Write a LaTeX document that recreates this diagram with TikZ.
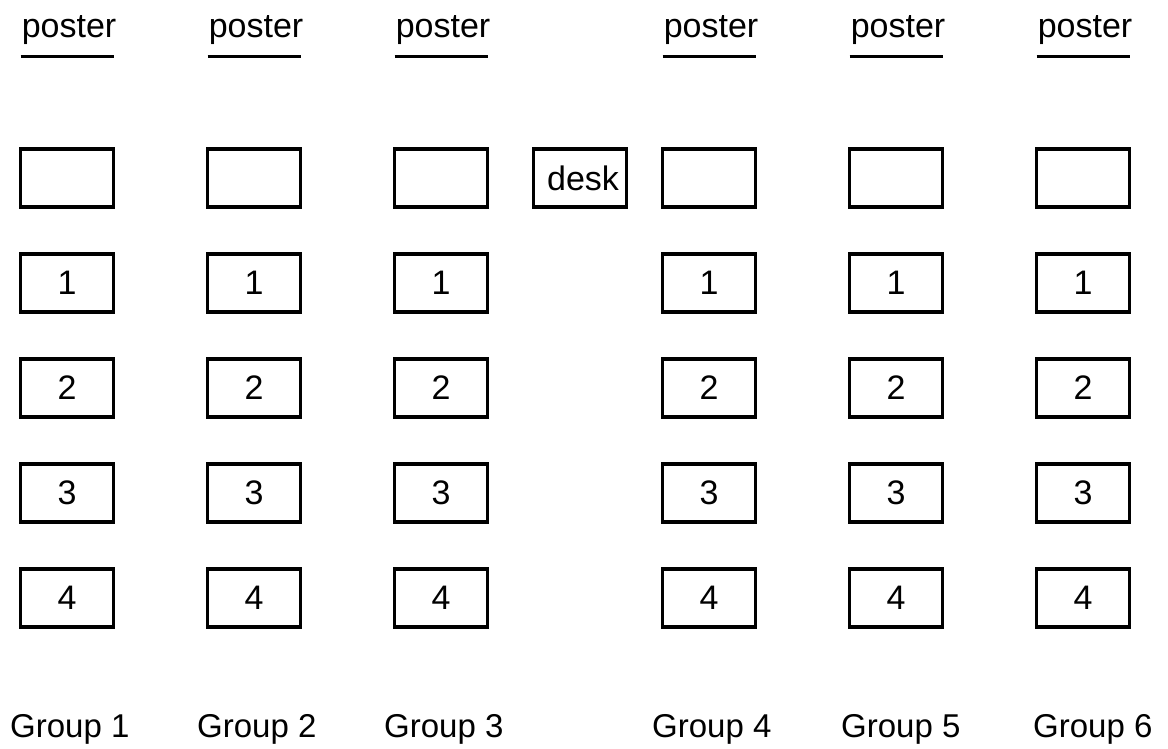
\documentclass[tikz,border=0pt]{standalone}
\usepackage{fontspec}
\setmainfont{Liberation Sans}
\begin{document}
\begin{tikzpicture}[x=1pt,y=-1pt,
  seat/.style={draw, line width=3.5pt, minimum width=93pt, minimum height=58pt, inner sep=0pt, font=\fontsize{34}{40}\selectfont},
  lbl/.style={inner sep=0pt, font=\fontsize{34}{40}\selectfont},
  grp/.style={inner sep=0pt, font=\fontsize{33}{40}\selectfont},
  posterline/.style={line width=3pt}]
\useasboundingbox (0,0) rectangle (1168,749);
% column centres
\foreach \c/\x in {1/67,2/254,3/441,4/709,5/896,6/1083}{
  \node[lbl, anchor=base] (p\c) at (\x+2,38) {poster};
  \coordinate (pl\c) at (\x-46.5,56.5);
  \coordinate (pr\c) at (\x+46.5,56.5);
  \draw[posterline] (pl\c) -- (pr\c);
  \node[seat] (t\c) at (\x,178) {};
  \node[seat] (a\c) at (\x,283) {1};
  \node[seat] (b\c) at (\x,388) {2};
  \node[seat] (c\c) at (\x,493) {3};
  \node[seat] (d\c) at (\x,598) {4};
}
\node[seat, text width=93pt, align=center] (desk) at (580,178) {\hspace*{6pt}desk};
\foreach \c/\x in {1/10,2/197,3/384,4/652,5/841,6/1033}{
  \node[grp, anchor=base west] (g\c) at (\x,737) {Group \c};
}
\end{tikzpicture}
\end{document}
